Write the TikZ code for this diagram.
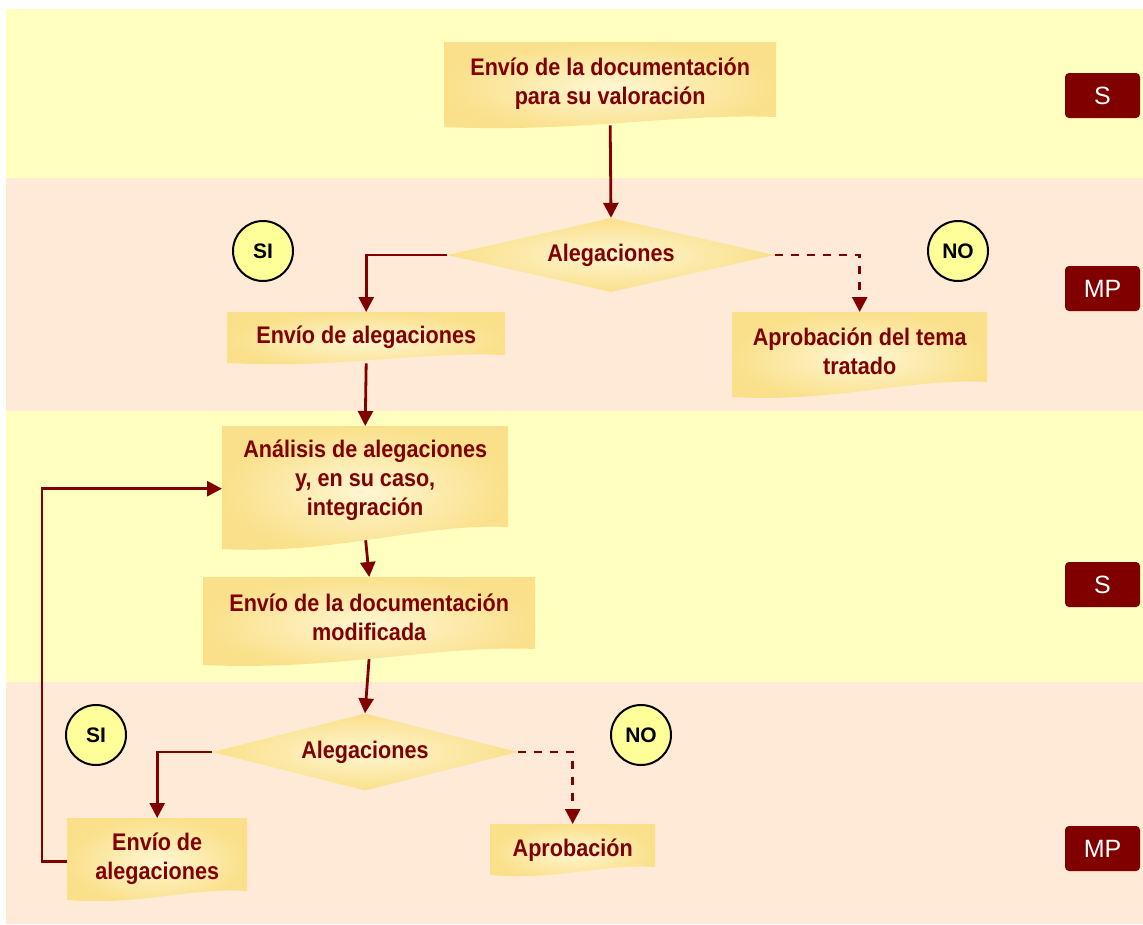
\documentclass[tikz,border=0pt]{standalone}
\usepackage{fontspec}
\setmainfont{Liberation Sans}[FakeStretch=0.9]
\newfontfamily\lanefont{Liberation Sans}
\usetikzlibrary{arrows.meta,shapes.geometric}
\definecolor{dred}{HTML}{800000}
\definecolor{bandY}{HTML}{FFFFC0}
\definecolor{bandP}{HTML}{FFEAD8}
\definecolor{boxEdge}{HTML}{FAE08A}
\definecolor{boxMid}{HTML}{FFF6D2}
\definecolor{circY}{HTML}{FFFF99}
\pgfdeclarelayer{bg}\pgfdeclarelayer{conn}\pgfsetlayers{bg,conn,main}
\tikzset{
 boxshade/.style={inner color=boxMid, outer color=boxEdge},
 boxtxt/.style={inner sep=0pt, align=center, text=dred, font=\bfseries\fontsize{24}{29}\selectfont, anchor=north west},
 decision/.style={diamond, aspect=4.4, inner sep=0pt, boxshade, minimum width=327pt, minimum height=74pt, text=dred, font=\bfseries\fontsize{24}{29}\selectfont},
 flow/.style={draw=dred, line width=2.8pt, -{Triangle[length=15pt,width=15pt]}},
 flowdash/.style={flow, dash pattern=on 8pt off 8pt},
 answer/.style={circle, draw=black, line width=2pt, fill=circY, minimum size=60pt, inner sep=0pt, font=\lanefont\bfseries\fontsize{21}{25}\selectfont},
 lane/.style={rectangle, rounded corners=4pt, fill=dred, text=white, minimum width=75pt, minimum height=45pt, inner sep=0pt, font=\lanefont\fontsize{25}{30}\selectfont}
}
\newcommand\docbox[7]{%
 \shade[boxshade] (#2,#3) -- (#4,#3) -- (#4,{#5-#6}) .. controls ({#4-0.3*(#4-#2)},{#5-#6-4}) and ({#2+0.4*(#4-#2)},{#5+3}) .. (#2,{#5-3}) -- cycle;
 \node[boxtxt, minimum width={#4-#2}, minimum height={#5-#6-#3+8}] (#1) at (#2,#3) {#7};
}
\begin{document}
\begin{tikzpicture}[x=1pt,y=-1pt]
\useasboundingbox (0,0) rectangle (1143,924);
\begin{pgfonlayer}{bg}
\fill[bandY] (6,9) rectangle (1143,178);
\fill[bandP] (6,178) rectangle (1143,411);
\fill[bandY] (6,411) rectangle (1143,682);
\fill[bandP] (6,682) rectangle (1143,924);
\end{pgfonlayer}

% lanes
\node[lane] (s1) at (1102.5,95.5) {S};
\node[lane] (mp1) at (1102.5,288.5) {MP};
\node[lane] (s2) at (1102.5,584.5) {S};
\node[lane] (mp2) at (1102.5,848.5) {MP};

% answers
\node[answer] (si1) at (263,251) {SI};
\node[answer] (no1) at (958,251) {NO};
\node[answer] (si2) at (96,735) {SI};
\node[answer] (no2) at (641,735) {NO};

% boxes
\docbox{b1}{444}{42}{776}{130}{13}{Envío de la documentación\\para su valoración}
\node[decision] (d1) at (611,255) {Alegaciones};
\docbox{b2}{227}{312}{505}{366}{11}{Envío de alegaciones}
\docbox{b3}{732}{312}{987}{400}{18}{Aprobación del tema\\tratado}
\docbox{b4}{222}{426}{508}{552}{25}{Análisis de alegaciones\\y, en su caso,\\integración}
\docbox{b5}{203}{577}{535}{668}{19}{Envío de la documentación\\modificada}
\node[decision, aspect=3.96, minimum width=305pt, minimum height=77pt] (d2) at (365,752) {Alegaciones};
\docbox{b6}{67}{818}{247}{903}{12}{Envío de\\alegaciones}
\docbox{b7}{490}{824}{655}{878}{11}{Aprobación}

\begin{pgfonlayer}{conn}
\draw[flow] (b1.south) -- (d1.north);
\draw[flow] (d1.west) -| (b2.north);
\draw[flowdash] (d1.east) -| (b3.north);
\draw[flow] (b2.south) -- (b4.north);
\draw[flow] (b4.south) -- (b5.north);
\draw[flow] (b5.south) -- (d2.north);
\draw[flow] (d2.west) -| (b6.north);
\draw[flowdash] (d2.east) -| (b7.north);
\draw[flow] ([yshift=-3pt]b6.west) -- ++(-25,0) |- ([yshift=-8pt]b4.west);
\end{pgfonlayer}
\end{tikzpicture}
\end{document}
